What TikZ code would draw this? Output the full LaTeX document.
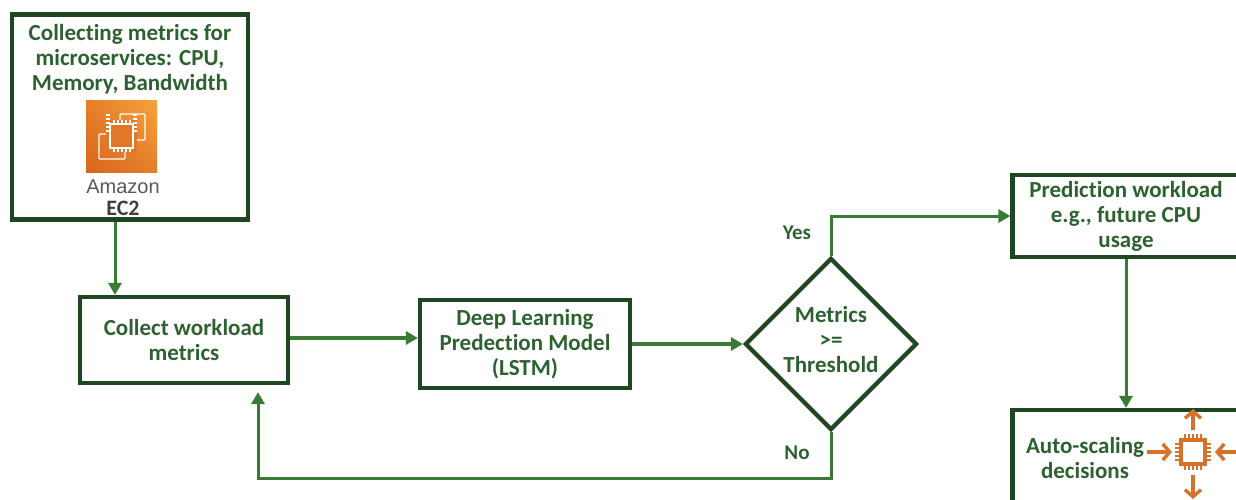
\documentclass[tikz,border=0pt]{standalone}
\usepackage{fontspec}
\setmainfont{Carlito}[Ligatures=NoCommon]
\newfontfamily\amzfont{Liberation Sans}
\usetikzlibrary{shapes.geometric,arrows.meta,shadings}
\definecolor{boxgreen}{HTML}{1E4620}
\definecolor{arrgreen}{HTML}{3A7A34}
\definecolor{txtgreen}{HTML}{2D6230}
\definecolor{awslight}{HTML}{F6A33B}
\definecolor{awsdark}{HTML}{D9661E}
\definecolor{scaleorange}{HTML}{D4722C}
\tikzset{
  box/.style={draw=boxgreen,line width=4.2pt,fill=white,inner sep=0pt,
    align=center,text=txtgreen,font=\bfseries\fontsize{23}{25}\selectfont},
  boxtext/.style={align=center,text=txtgreen,font=\bfseries\fontsize{23}{25}\selectfont},
  flow/.style={draw=arrgreen,line width=3pt,-{Triangle[length=12pt,width=13pt]}},
  lbl/.style={text=txtgreen,font=\bfseries\fontsize{21}{24}\selectfont},
  chipline/.style={draw=white,line width=1.4pt},
  scalearrow/.style={draw=scaleorange,line width=3.4pt,-{Straight Barb[length=7pt,width=16pt]}}
}
\begin{document}
\begin{tikzpicture}[x=1pt,y=-1pt]
\useasboundingbox (0,0) rectangle (1236,500);
\clip (0,0) rectangle (1236,500);

% boxes
\node[box,minimum width=236,minimum height=205] (ec2box) at (130,117) {};
\node[box,minimum width=208,minimum height=86] (col) at (184,340) {Collect workload\\metrics};
\node[box,minimum width=210,minimum height=88] (dl) at (525,344) {Deep Learning\\Predection Model\\(LSTM)};
\node[box,diamond,shape aspect=1,minimum width=172,minimum height=172] (dia) at (831,344) {};
\node[boxtext] (diatxt) at (831,340) {Metrics\\>=\\Threshold};
\node[box,minimum width=227,minimum height=82] (pred) at (1126,216) {};
\node[boxtext] (predtxt) at (1126,216) {Prediction workload\\e.g., future CPU\\usage};
\node[box,minimum width=227,minimum height=110] (auto) at (1126,465) {};
\node[boxtext] (autotxt) at (1085,458) {Auto-scaling\\decisions};

% EC2 card
\node[boxtext] (ec2txt) at (130,59) {Collecting metrics for\\microservices: CPU,\\Memory, Bandwidth};
\shade[lower left=awsdark,upper right=awslight,lower right=awsdark!60!awslight,upper left=awsdark!60!awslight]
  (86,101) rectangle (157,172);
\draw[chipline,rounded corners=1pt] (120,114) rectangle (145,140);
\draw[chipline,rounded corners=1pt] (99,134) rectangle (125,159);
\fill[awsdark!70!awslight] (106,120) rectangle (137,152);
\draw[chipline] (110,124) rectangle (133,148);
\foreach \p in {114,118,...,130} {
  \draw[chipline] (\p,120) -- (\p,124) (\p,148) -- (\p,152)
                  (106,\p+1) -- (110,\p+1) (133,\p+1) -- (137,\p+1);
}
\node[text=black!65,font=\amzfont\fontsize{20}{22}\selectfont] (amz) at (123,187) {Amazon};
\node[text=black!75,font=\bfseries\fontsize{22}{24}\selectfont] (ec2) at (123,208) {EC2};

% scaling icon
\draw[scaleorange,line width=3.4pt] (1181,440) rectangle (1205,464);
\foreach \p in {445,449,...,461} {
  \draw[scaleorange,line width=1.8pt] (1175,\p-1) -- (1181,\p-1) (1205,\p-1) -- (1211,\p-1);
}
\foreach \p in {1185,1189,...,1201} {
  \draw[scaleorange,line width=1.8pt] (\p,434) -- (\p,440) (\p,464) -- (\p,470);
}
\coordinate (upa) at (1193,430);
\coordinate (upb) at (1193,409);
\coordinate (dna) at (1193,475);
\coordinate (dnb) at (1193,499);
\coordinate (lfa) at (1147,452);
\coordinate (lfb) at (1172,452);
\coordinate (rta) at (1240,452);
\coordinate (rtb) at (1215,452);
\draw[scalearrow] (upa) -- (upb);
\draw[scalearrow] (dna) -- (dnb);
\draw[scalearrow] (lfa) -- (lfb);
\draw[scalearrow] (rta) -- (rtb);

% connectors
\draw[flow] ([xshift=-15pt]ec2box.south) -- ([xshift=-69pt]col.north);
\draw[flow,line width=4pt] ([yshift=2pt]col.east) -- ([yshift=2pt]col.east -| dl.west);
\draw[flow,line width=3.5pt] (dl.east) -- (dia.west);
\draw[flow] (dia.north) |- (pred.west);
\draw[flow] (pred.south) -- (auto.north);
\coordinate (nofoot) at (831,478);
\draw[flow,shorten >=7pt] (dia.south) -- (nofoot) -| ([xshift=74pt]col.south);
\node[lbl] (yes) at (797,233) {Yes};
\node[lbl] (no) at (797,453) {No};
\end{tikzpicture}
\end{document}
